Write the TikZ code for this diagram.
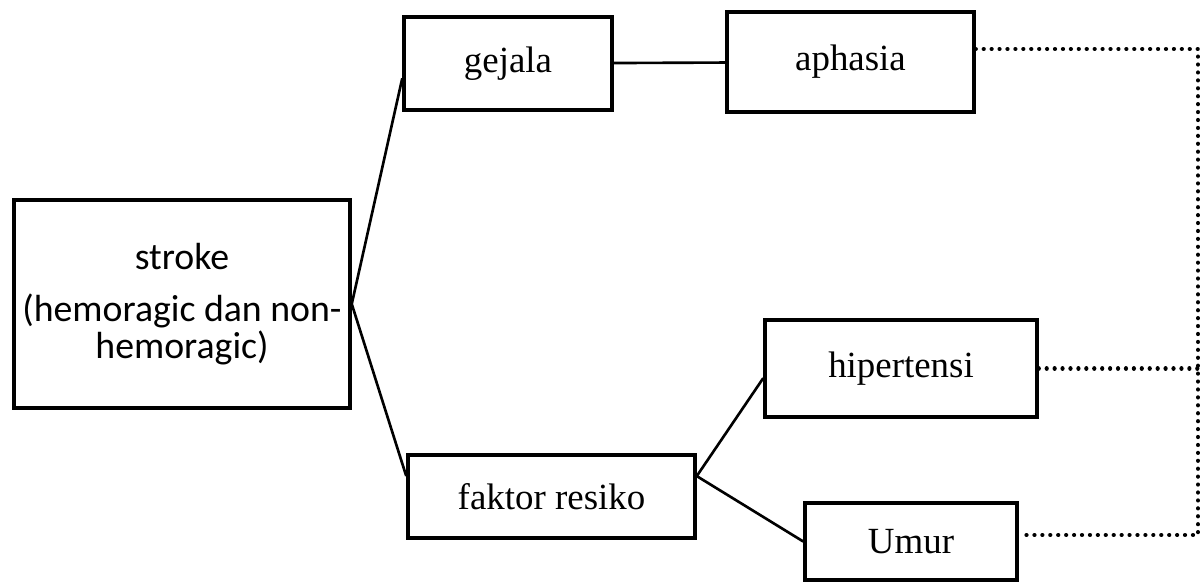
\documentclass[tikz,border=0pt]{standalone}
\usepackage{fontspec}
\setmainfont{Liberation Serif}
\newfontfamily\boxsans{Carlito}
\usepackage{tikz}
\tikzset{every edge/.style={draw, line width=1.5pt}}

\begin{document}
\begin{tikzpicture}[every node/.style={font=\fontsize{21}{22}\selectfont},
  box/.style={draw, line width=2pt, inner sep=0pt},
  dotlink/.style={line width=2.4pt, line cap=round, dash pattern=on 0.01pt off 4.5pt}]
  \useasboundingbox (0, 0) rectangle (24.08, -11.64);

  \node[box, minimum width=6.72cm, minimum height=4.16cm, align=center, font=\boxsans\fontsize{21.5}{21}\selectfont]
    at (3.64, -6.08) (stroke) {stroke\\[9pt](hemoragic dan non-\\hemoragic)};
  \node[box, minimum width=4.16cm, minimum height=1.86cm] at (10.16, -1.27) (gejala) {gejala};
  \node[box, minimum width=4.94cm, minimum height=2.0cm] at (17.01, -1.24) (aphasia) {aphasia};
  \node[box, minimum width=5.74cm, minimum height=1.66cm] at (11.03, -9.93) (faktor) {faktor resiko};
  \node[box, minimum width=5.44cm, minimum height=1.94cm] at (18.02, -7.37) (hipertensi) {hipertensi};
  \node[box, minimum width=4.24cm, minimum height=1.54cm] at (18.22, -10.83) (umur) {Umur};

  \coordinate (railtop) at (23.96, -0.98);
  \coordinate (railbot) at (23.96, -10.70);

  \draw (stroke.east) edge (gejala.188);
  \draw (stroke.east) edge (faktor.172);
  \draw (gejala) edge (aphasia);
  \draw (faktor.8) edge (hipertensi.184);
  \draw (faktor.8) edge (umur.west);

  \draw[dotlink] (aphasia.east |- railtop) -- (railtop) -- (railbot) -- (umur.east |- railbot);
  \draw[dotlink] (hipertensi.east) -- (hipertensi.east -| railtop);
\end{tikzpicture}
\end{document}
